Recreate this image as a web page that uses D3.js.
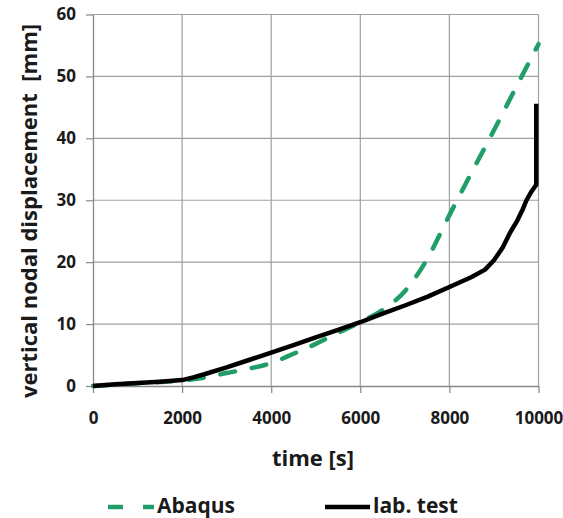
<!DOCTYPE html>
<html>
<head>
<meta charset="utf-8">
<script src="https://cdn.jsdelivr.net/npm/d3@7"></script>
<style>
  body { margin: 0; background: #fff; }
  svg text { font-family: "Open Sans", sans-serif; font-weight: bold; fill: #1a1a1a; }
</style>
</head>
<body>
<div id="chart"></div>
<script>
// time [s] and vertical nodal displacement [mm]
var abaqusTime = [0, 1000, 2000, 2500, 3000, 3500, 4000, 4500, 5000, 5500, 6000, 6500, 7000, 7500, 8000, 8500, 9000, 9500, 10000];
var abaqusDisp = [0, 0.45, 0.9, 1.35, 2.1, 2.8, 3.7, 5.2, 6.8, 8.6, 10.3, 12.3, 15.3, 20.5, 27.6, 34.5, 41.3, 48.3, 55.2];

var labTime = [0, 500, 1000, 1500, 2000, 2250, 2500, 3000, 3500, 4000, 4500, 5000, 5500, 6000, 6500, 7000, 7500, 8000, 8500, 8800, 9000, 9200, 9350, 9530, 9650, 9730, 9850, 9950, 9950];
var labDisp = [0, 0.3, 0.5, 0.7, 0.95, 1.4, 1.9, 3.0, 4.2, 5.4, 6.6, 7.85, 9.05, 10.3, 11.7, 13.0, 14.4, 16.0, 17.6, 18.8, 20.3, 22.4, 24.6, 26.8, 28.6, 30.0, 31.5, 32.5, 45.6];

var xTicks = [0, 2000, 4000, 6000, 8000, 10000];
var yTicks = [0, 10, 20, 30, 40, 50, 60];

var w = 563;
var h = 518;
var padLeft = 93, padRight = 538.5, padTop = 14.5, padBottom = 386;

var xScale = d3.scaleLinear().domain([0, 10000]).range([padLeft, padRight]);
var yScale = d3.scaleLinear().domain([0, 60]).range([padBottom, padTop]);

var svg = d3.select("#chart")
            .append("svg")
            .attr("width", w)
            .attr("height", h);

// horizontal grid lines
svg.append("g")
    .selectAll("line")
    .data(yTicks.slice(1))
    .enter()
    .append("line")
    .attr("x1", padLeft)
    .attr("x2", padRight)
    .attr("y1", function(d) { return yScale(d); })
    .attr("y2", function(d) { return yScale(d); })
    .attr("stroke", "#a0a0a0")
    .attr("stroke-width", 1.2);

// vertical grid lines
svg.append("g")
    .selectAll("line")
    .data(xTicks.slice(1))
    .enter()
    .append("line")
    .attr("x1", function(d) { return xScale(d); })
    .attr("x2", function(d) { return xScale(d); })
    .attr("y1", padTop)
    .attr("y2", padBottom)
    .attr("stroke", "#a0a0a0")
    .attr("stroke-width", 1.2);

// axes
var xAxis = svg.append("g")
    .attr("transform", "translate(0," + padBottom + ")")
    .call(d3.axisBottom(xScale).tickValues(xTicks).tickFormat(d3.format("d")).tickSize(7).tickSizeOuter(0));

var yAxis = svg.append("g")
    .attr("transform", "translate(" + padLeft + ",0)")
    .call(d3.axisLeft(yScale).tickValues(yTicks).tickSize(7).tickSizeOuter(0).tickPadding(10));

[xAxis, yAxis].forEach(function(a) {
    a.select(".domain").attr("stroke", "#888").attr("stroke-width", 1.3);
    a.selectAll(".tick line").attr("stroke", "#888").attr("stroke-width", 1.2);
    a.selectAll("text").style("font-size", "17px").attr("fill", "#1a1a1a");
});
xAxis.selectAll("text").attr("y", 38).attr("dy", 0);

// lines
var line = d3.line()
    .x(function(d) { return xScale(d[0]); })
    .y(function(d) { return yScale(d[1]); });

var labData = d3.zip(labTime, labDisp);
var abaqusData = d3.zip(abaqusTime, abaqusDisp);

svg.append("path")
    .datum(abaqusData)
    .attr("d", line.curve(d3.curveMonotoneX))
    .attr("fill", "none")
    .attr("stroke", "#1f9e68")
    .attr("stroke-width", 4.5)
    .attr("stroke-linecap", "round")
    .attr("stroke-dasharray", "15,17");

svg.append("path")
    .datum(labData)
    .attr("d", line.curve(d3.curveLinear))
    .attr("fill", "none")
    .attr("stroke", "#000")
    .attr("stroke-width", 4.5)
    .attr("stroke-linejoin", "round");

// axis titles
svg.append("text")
    .attr("x", 313)
    .attr("y", 466)
    .attr("text-anchor", "middle")
    .style("font-size", "22px")
    .text("time [s]");

svg.append("text")
    .attr("transform", "translate(37,211) rotate(-90)")
    .attr("text-anchor", "middle")
    .style("font-size", "22px")
    .style("white-space", "pre")
    .text("vertical nodal displacement  [mm]");

// legend
svg.append("line")
    .attr("x1", 108).attr("x2", 154)
    .attr("y1", 507).attr("y2", 507)
    .attr("stroke", "#1f9e68")
    .attr("stroke-width", 4.5)
    .attr("stroke-dasharray", "15,20");
svg.append("text")
    .attr("x", 157).attr("y", 513)
    .style("font-size", "21px")
    .text("Abaqus");

svg.append("line")
    .attr("x1", 325).attr("x2", 370)
    .attr("y1", 507).attr("y2", 507)
    .attr("stroke", "#000")
    .attr("stroke-width", 4.5);
svg.append("text")
    .attr("x", 373).attr("y", 513)
    .style("font-size", "21px")
    .text("lab. test");
</script>
</body>
</html>
